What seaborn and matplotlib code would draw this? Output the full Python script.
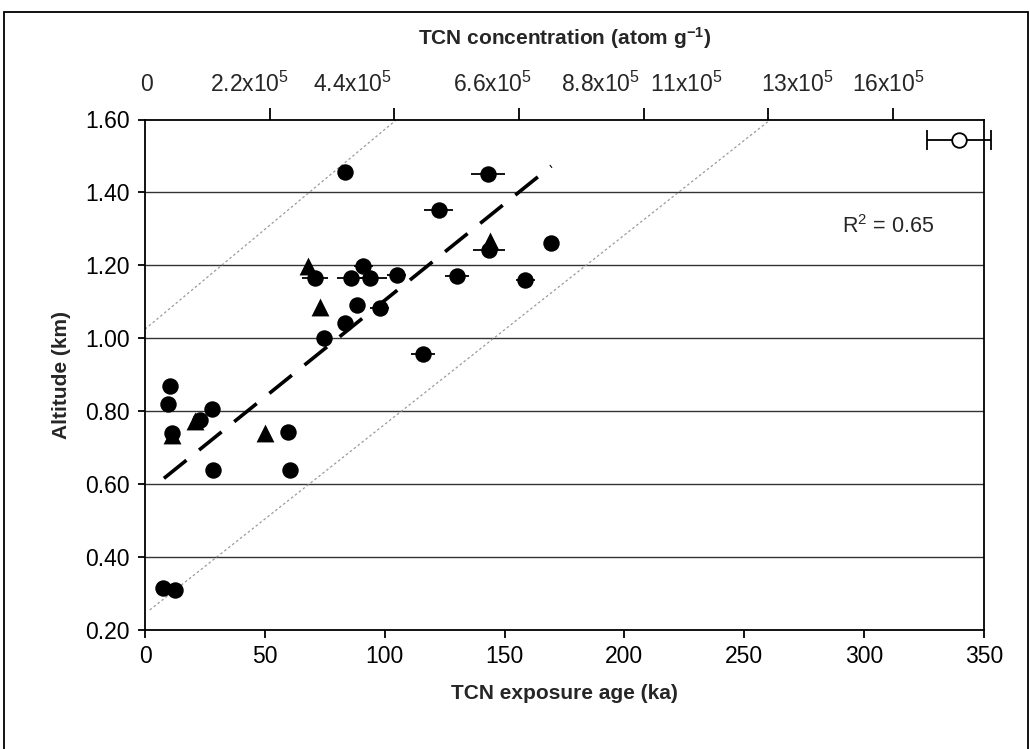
import numpy as np
import pandas as pd
import matplotlib
matplotlib.use("Agg")
import matplotlib.pyplot as plt
import matplotlib.transforms as mtransforms
from matplotlib.patches import Rectangle
import seaborn as sns

# ---------------- data ----------------
age_ka = [83.3, 122.5, 143.0, 68.0, 71.0, 86.0, 91.0, 93.8, 105.0, 73.2, 88.6, 97.9,
          83.3, 74.6, 116.0, 130.0, 143.5, 144.0, 169.5, 158.6,
          10.4, 9.4, 27.8, 20.8, 22.9, 11.1, 11.3, 50.0, 59.5, 28.5, 60.4,
          7.6, 12.5]
altitude_km = [1.456, 1.352, 1.450, 1.197, 1.166, 1.166, 1.197, 1.166, 1.173, 1.086, 1.090, 1.084,
               1.042, 1.002, 0.958, 1.172, 1.243, 1.268, 1.260, 1.160,
               0.869, 0.821, 0.805, 0.772, 0.776, 0.741, 0.735, 0.740, 0.743, 0.640, 0.640,
               0.316, 0.311]
age_err = [0, 6, 7, 0, 5.5, 6, 4, 7, 4, 0, 3, 4,
           0, 0, 5, 5, 6.5, 0, 2, 4,
           0, 0, 0, 0, 0, 0, 0, 0, 0, 0, 0,
           0, 0]
marker_kind = ["circle", "circle", "circle", "triangle", "circle", "circle", "circle", "circle",
               "circle", "triangle", "circle", "circle",
               "circle", "circle", "circle", "circle", "circle", "triangle", "circle", "circle",
               "circle", "circle", "circle", "triangle", "circle", "circle", "triangle",
               "triangle", "circle", "circle", "circle",
               "circle", "circle"]

# outlier (open circle with error bar)
outlier_age = [339.6]
outlier_alt = [1.545]
outlier_err = [13.5]

# regression fit (dashed) and envelope lines (dotted)
fit_x = [7.9, 169.5]
fit_slope = 0.0053
fit_intercept = 0.574
upper_env_x = [0.0, 105.0]
upper_env_y = [1.025, 1.600]
lower_env_x = [2.0, 261.0]
lower_env_y = [0.255, 1.600]

x_ticks = [0, 50, 100, 150, 200, 250, 300, 350]
y_ticks = [0.20, 0.40, 0.60, 0.80, 1.00, 1.20, 1.40, 1.60]
top_tick_pos = [52, 104, 156, 208, 260, 312]
top_labels = ["0", "2.2x10$^{\\mathregular{5}}$", "4.4x10$^{\\mathregular{5}}$",
              "6.6x10$^{\\mathregular{5}}$", "8.8x10$^{\\mathregular{5}}$",
              "11x10$^{\\mathregular{5}}$", "13x10$^{\\mathregular{5}}$",
              "16x10$^{\\mathregular{5}}$"]
top_label_pos = [0.8, 43.8, 86.7, 145.0, 190.0, 226.0, 272.0, 310.0]

df = pd.DataFrame({"age": age_ka, "alt": altitude_km, "err": age_err, "kind": marker_kind})

# ---------------- style ----------------
sns.set_theme(style="white")
plt.rcParams["font.family"] = ["Liberation Sans", "DejaVu Sans"]
plt.rcParams["mathtext.fontset"] = "custom"
plt.rcParams["mathtext.rm"] = "Liberation Sans"
plt.rcParams["mathtext.it"] = "Liberation Sans:italic"
plt.rcParams["mathtext.bf"] = "Liberation Sans:bold"

fig = plt.figure(figsize=(10.30, 7.49), dpi=100)
fig.patch.set_facecolor("white")
fig.patches.append(Rectangle((4 / 1030, -0.01), 1024 / 1030, 1 - 12 / 749 + 0.01,
                             transform=fig.transFigure, fill=False, edgecolor="black",
                             linewidth=1.3))

ax = fig.add_axes([145 / 1030, (749 - 630) / 749, (984 - 145) / 1030, (630 - 119.5) / 749])
ax.set_xlim(0, 350)
ax.set_ylim(0.20, 1.60)

# grid lines
for yv in y_ticks[1:-1]:
    ax.axhline(yv, color="#333333", lw=1.0, zorder=1)

# envelope lines
ax.plot(upper_env_x, upper_env_y, color="#9a9a9a", lw=0.9, ls=(0, (2, 2)), zorder=2)
ax.plot(lower_env_x, lower_env_y, color="#9a9a9a", lw=0.9, ls=(0, (2, 2)), zorder=2)

# regression
fx = np.array(fit_x)
ax.plot(fx, fit_intercept + fit_slope * fx, color="black", lw=2.6, ls=(0, (8, 4.5)),
        solid_capstyle="butt", dash_capstyle="butt", zorder=4)

# error bars
e = df[df["err"] > 0]
ax.errorbar(e["age"], e["alt"], xerr=e["err"], fmt="none", ecolor="black",
            elinewidth=1.3, capsize=0, zorder=3)

# markers
sns.scatterplot(data=df[df["kind"] == "circle"], x="age", y="alt", marker="o",
                color="black", s=140, linewidth=0, ax=ax, zorder=5, legend=False)
sns.scatterplot(data=df[df["kind"] == "triangle"], x="age", y="alt", marker="^",
                color="black", s=165, linewidth=0, ax=ax, zorder=5, legend=False)

# outlier
ax.errorbar(outlier_age, outlier_alt, xerr=outlier_err, fmt="o", mfc="white", mec="black",
            mew=1.3, ms=10.5, ecolor="black", elinewidth=1.3, capsize=7, capthick=1.3,
            clip_on=False, zorder=6)

ax.text(310, 1.307, "R$^{\\mathregular{2}}$ = 0.65", fontsize=15.5, ha="center", va="center")

# axes styling
for sp in ax.spines.values():
    sp.set_color("black")
    sp.set_linewidth(1.3)
ax.set_xticks(x_ticks)
ax.set_yticks(y_ticks)
ax.set_yticklabels([f"{v:.2f}" for v in y_ticks])
ax.tick_params(axis="x", direction="out", length=6, width=1.3, labelsize=16.5,
               colors="black", pad=5, bottom=True)
ax.tick_params(axis="y", direction="out", length=5, width=1.3, labelsize=16.5,
               colors="black", pad=6, left=True)
ax.set_xlabel("TCN exposure age (ka)", fontsize=15, fontweight="bold", labelpad=11)
ax.set_ylabel("Altitude (km)", fontsize=15, fontweight="bold", labelpad=10)

# top axis
ax2 = ax.twiny()
ax2.set_xlim(ax.get_xlim())
ax2.set_xticks(top_tick_pos)
ax2.set_xticklabels([])
ax2.tick_params(axis="x", direction="out", length=9, width=1.3, top=True, colors="black")
for sp in ax2.spines.values():
    sp.set_visible(False)
trans = mtransforms.blended_transform_factory(ax.transData, ax.transAxes)
for pos, lab in zip(top_label_pos, top_labels):
    ax.text(pos, 1.068, lab, transform=trans, fontsize=16.5, ha="center", va="center",
            clip_on=False)
fig.text((145 + 984) / 2 / 1030, 1 - 38 / 749, "TCN concentration (atom g$^{\\mathregular{-1}}$)",
         fontsize=15, fontweight="bold", ha="center", va="center")

fig.savefig("out.png", dpi=100, facecolor="white")
